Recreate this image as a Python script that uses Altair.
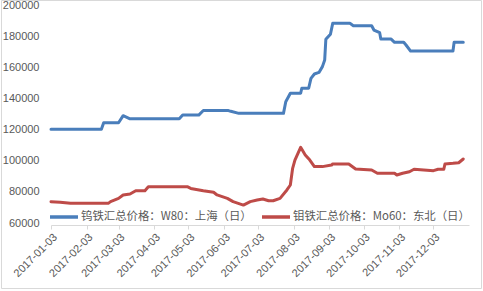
import altair as alt
import pandas as pd

# ---- data ----
w80_name = "钨铁汇总价格：W80：上海（日）"
mo60_name = "钼铁汇总价格：Mo60：东北（日）"

w80_dates = ["2017-01-03", "2017-02-16", "2017-02-18", "2017-03-03", "2017-03-07", "2017-03-13",
             "2017-04-25", "2017-04-28", "2017-05-12", "2017-05-16", "2017-06-07", "2017-06-09",
             "2017-06-16", "2017-07-25", "2017-07-27", "2017-07-31", "2017-08-09", "2017-08-10",
             "2017-08-16", "2017-08-18", "2017-08-21", "2017-08-25", "2017-08-28", "2017-08-30",
             "2017-08-31", "2017-09-04", "2017-09-06", "2017-09-21", "2017-09-24", "2017-10-10",
             "2017-10-12", "2017-10-17", "2017-10-18", "2017-10-27", "2017-10-30", "2017-11-07",
             "2017-11-09", "2017-11-13", "2017-12-20", "2017-12-21", "2017-12-29"]
w80_values = [121500, 121500, 125700, 125700, 130200, 128200,
              128200, 130600, 130600, 133500, 133500, 133000,
              131700, 131700, 139200, 144600, 144600, 147800,
              147800, 154200, 157000, 158000, 161700, 166000,
              179300, 182500, 189500, 189500, 188000, 188000,
              185200, 183500, 179400, 179400, 177300, 177300,
              175600, 171700, 171700, 177300, 177300]

mo60_dates = ["2017-01-03", "2017-01-11", "2017-01-20", "2017-02-22", "2017-02-24", "2017-03-03",
              "2017-03-07", "2017-03-13", "2017-03-18", "2017-03-26", "2017-03-29", "2017-05-02",
              "2017-05-05", "2017-05-16", "2017-05-25", "2017-05-28", "2017-06-06", "2017-06-11",
              "2017-06-20", "2017-06-26", "2017-07-02", "2017-07-07", "2017-07-12", "2017-07-16",
              "2017-07-22", "2017-07-28", "2017-07-31", "2017-08-02", "2017-08-04", "2017-08-09",
              "2017-08-13", "2017-08-17", "2017-08-21", "2017-08-28", "2017-09-05", "2017-09-06",
              "2017-09-20", "2017-09-26", "2017-10-10", "2017-10-15", "2017-10-30", "2017-11-01",
              "2017-11-06", "2017-11-12", "2017-11-16", "2017-12-03", "2017-12-07", "2017-12-12",
              "2017-12-13", "2017-12-20", "2017-12-25", "2017-12-29"]
mo60_values = [75000, 74600, 73900, 73900, 75000, 77100,
               79300, 79900, 82000, 82000, 84600, 84600,
               83500, 82000, 81000, 79300, 77100, 75000,
               72800, 75000, 76000, 76700, 75600, 75600,
               77100, 82500, 85700, 96400, 101700, 109900,
               105000, 101700, 97500, 97500, 98500, 99200,
               99200, 96000, 95300, 93200, 93200, 92100,
               93200, 94200, 95800, 94900, 95800, 95800,
               99200, 99600, 100000, 102400]

y_ticks = [60000, 80000, 100000, 120000, 140000, 160000, 180000, 200000]
x_tick_months = [1, 2, 3, 4, 5, 6, 7, 8, 9, 10, 11, 12]
series_colors = ["#4a7ebb", "#be4b48"]

df = pd.concat([
    pd.DataFrame({"date": w80_dates, "value": w80_values, "series": w80_name}),
    pd.DataFrame({"date": mo60_dates, "value": mo60_values, "series": mo60_name}),
], ignore_index=True)

label_color = "#595959"

lines = alt.Chart(df).mark_line(strokeWidth=3, strokeJoin="round", strokeCap="round").encode(
    x=alt.X(
        "date:T",
        title=None,
        scale=alt.Scale(
            type="utc",
            domain=[alt.DateTime(year=2017, month=1, date=3, utc=True),
                    alt.DateTime(year=2018, month=1, date=3, utc=True)],
        ),
        axis=alt.Axis(
            values=[alt.DateTime(year=2017, month=m, date=3, utc=True) for m in x_tick_months],
            labelExpr="utcFormat(datum.value, '%Y-%m-%d')",
            labelAngle=-45,
            labelAlign="right",
            labelBaseline="top",
            labelPadding=2,
            labelFont="Liberation Sans",
            labelFontSize=11,
            labelColor=label_color,
            labelOverlap=False,
            labelBound=False,
            labelFlush=False,
            grid=False,
            domainColor="#d9d9d9",
            tickColor="#d9d9d9",
            tickSize=4,
        ),
    ),
    y=alt.Y(
        "value:Q",
        title=None,
        scale=alt.Scale(domain=[60000, 200000], nice=False, zero=False),
        axis=alt.Axis(
            values=y_ticks,
            format="d",
            grid=False,
            domain=False,
            ticks=False,
            labelPadding=12,
            labelOffset=-2,
            labelFont="Liberation Sans",
            labelFontSize=11,
            labelColor=label_color,
        ),
    ),
    color=alt.Color(
        "series:N",
        scale=alt.Scale(domain=[w80_name, mo60_name], range=series_colors),
        legend=alt.Legend(
            orient="none",
            legendX=-3,
            legendY=194,
            direction="horizontal",
            title=None,
            symbolType="stroke",
            symbolStrokeWidth=3.5,
            symbolSize=784,
            labelFont="Noto Sans CJK SC",
            labelFontSize=11.4,
            labelColor=label_color,
            labelOffset=1,
            labelLimit=400,
            columnPadding=3,
            padding=0,
        ),
    ),
)

border = alt.Chart(pd.DataFrame({"k": [0]})).mark_rect(
    fill="transparent", stroke="#d9d9d9", strokeWidth=1
).encode(
    x=alt.value(-49.5), x2=alt.value(430.5), y=alt.value(-6.5), y2=alt.value(281.5)
)

chart = alt.layer(border, lines).properties(
    width=418,
    height=218,
    autosize=alt.AutoSizeParams(type="none"),
    padding={"left": 51, "top": 7, "right": 14, "bottom": 66},
    background="white",
).configure_view(strokeWidth=0)

chart.save("out.html", embed_options={"renderer": "svg", "actions": False})
